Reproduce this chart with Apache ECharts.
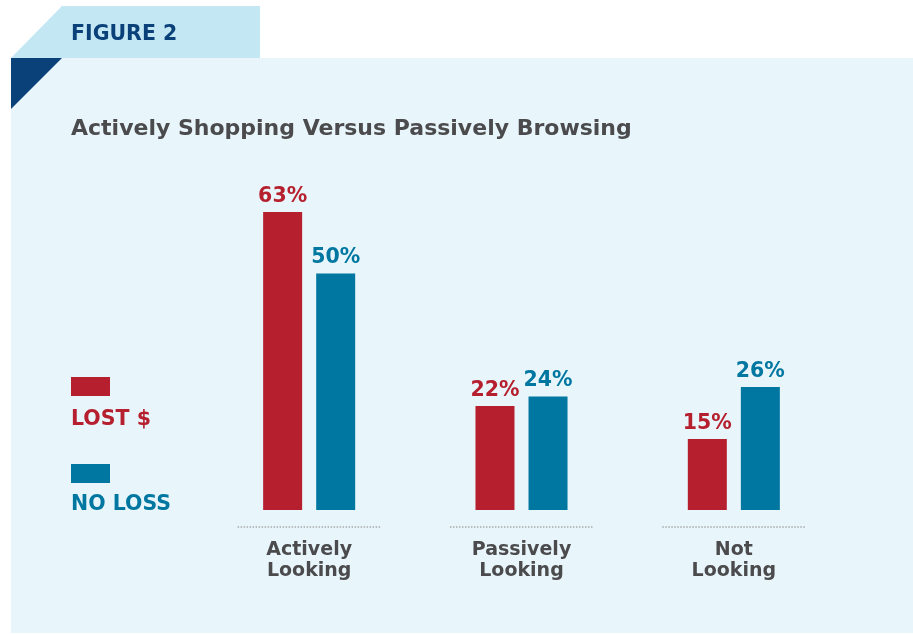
<!DOCTYPE html>
<html>
<head>
<meta charset="utf-8">
<script src="https://cdn.jsdelivr.net/npm/echarts@6/dist/echarts.min.js"></script>
<style>
	html, body { margin: 0; padding: 0; background: #fff; }
	#chart { width: 913px; height: 634px; }
</style>
</head>
<body>
<div id="chart"></div>
<script>
// data
var categories = ['Actively\nLooking', 'Passively\nLooking', 'Not\nLooking'];
var lostValues = [63, 22, 15];
var noLossValues = [50, 24, 26];
var seriesNames = ['LOST $', 'NO LOSS'];

var RED = '#b51f2e';
var BLUE = '#0077a1';
var GRAY = '#4b4b4d';
var FONT = '"DejaVu Sans", sans-serif';

var myChart = echarts.init(document.getElementById('chart'));

var option = {
	animation: false,
	textStyle: { fontFamily: FONT },
	graphic: [
		// panel
		{ type: 'rect', z: -10, shape: { x: 11, y: 58, width: 902, height: 575 }, style: { fill: '#e8f6fb' } },
		// tab
		{ type: 'polygon', z: -10, shape: { points: [[62, 6], [260, 6], [260, 58], [11, 58]] }, style: { fill: '#c4e7f4' } },
		// dark corner
		{ type: 'polygon', z: -9, shape: { points: [[11, 58], [62, 58], [11, 109]] }, style: { fill: '#0b4179' } },
		{ type: 'text', left: 71, top: 24, style: { text: 'FIGURE 2', fill: '#0b4179', font: 'bold 20.5px ' + FONT } },
		{ type: 'text', left: 71, top: 118, style: { text: 'Actively Shopping Versus Passively Browsing', fill: GRAY, font: 'bold 22px ' + FONT } },
		// legend
		{ type: 'rect', shape: { x: 71, y: 377, width: 39, height: 19 }, style: { fill: RED } },
		{ type: 'text', left: 71, top: 409, style: { text: seriesNames[0], fill: RED, font: 'bold 20.5px ' + FONT } },
		{ type: 'rect', shape: { x: 71, y: 464, width: 39, height: 19 }, style: { fill: BLUE } },
		{ type: 'text', left: 71, top: 494, style: { text: seriesNames[1], fill: BLUE, font: 'bold 20.5px ' + FONT } }
	],
	grid: { left: 203, right: 73, top: 179, bottom: 124 },
	xAxis: {
		type: 'category',
		data: categories,
		axisLine: { show: false },
		axisTick: { show: false },
		axisLabel: {
			margin: 30,
			color: GRAY,
			fontFamily: FONT,
			fontWeight: 'bold',
			fontSize: 19,
			lineHeight: 21
		}
	},
	yAxis: {
		type: 'value',
		min: 0,
		max: 70,
		show: false,
		splitLine: { show: false }
	},
	series: [
		{
			name: seriesNames[0],
			type: 'bar',
			data: lostValues,
			barWidth: 39,
			barGap: '36%',
			itemStyle: { color: RED },
			label: {
				show: true,
				position: 'top',
				distance: 5,
				formatter: '{c}%',
				color: RED,
				fontFamily: FONT,
				fontWeight: 'bold',
				fontSize: 20.5
			}
		},
		{
			name: seriesNames[1],
			type: 'bar',
			data: noLossValues,
			barWidth: 39,
			itemStyle: { color: BLUE },
			label: {
				show: true,
				position: 'top',
				distance: 5,
				formatter: '{c}%',
				color: BLUE,
				fontFamily: FONT,
				fontWeight: 'bold',
				fontSize: 20.5
			}
		},
		{
			// dotted baseline under each group
			type: 'custom',
			silent: true,
			data: categories.map(function (c, i) { return [i, 0]; }),
			renderItem: function (params, api) {
				var p = api.coord([api.value(0), 0]);
				var half = api.size([1, 0])[0] * 0.337;
				return {
					type: 'line',
					shape: { x1: p[0] - half, y1: p[1] + 17, x2: p[0] + half, y2: p[1] + 17 },
					style: { stroke: '#a6a9ab', lineWidth: 1.5, lineDash: [1.5, 1.5] }
				};
			}
		}
	]
};

myChart.setOption(option);
</script>
</body>
</html>
